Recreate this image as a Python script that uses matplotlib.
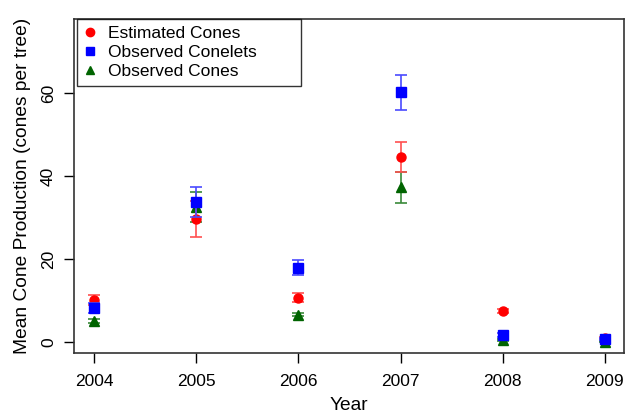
import numpy as np
import matplotlib.pyplot as plt
from matplotlib.lines import Line2D

plt.rcParams['font.family'] = ['Liberation Sans', 'DejaVu Sans']

years = [2004, 2005, 2006, 2007, 2008, 2009]

est_cones = [10.1, 29.6, 10.7, 44.6, 7.5, 1.0]
est_cones_err = [1.2, 4.3, 1.0, 3.6, 0.5, 0.3]

obs_conelets = [8.2, 33.7, 17.9, 60.1, 1.7, 0.8]
obs_conelets_err = [1.1, 3.7, 1.8, 4.3, 0.4, 0.2]

obs_cones = [5.1, 32.5, 6.6, 37.3, 0.5, 0.1]
obs_cones_err = [0.5, 3.7, 0.4, 3.7, 0.2, 0.1]

fig = plt.figure(figsize=(6.26, 4.16), dpi=100)
ax = fig.add_axes([0.1182, 0.1514, 0.8786, 0.8029])

kw = dict(linestyle='none', capsize=4, elinewidth=1.2, capthick=1.2, markersize=6.5)
ax.errorbar(years, obs_cones, yerr=obs_cones_err, fmt='^', color='#006400',
            ecolor='#3a8a3a', zorder=2, **kw)
ax.errorbar(years, est_cones, yerr=est_cones_err, fmt='o', color='red',
            ecolor='#ff5050', zorder=3, **kw)
ax.errorbar(years, obs_conelets, yerr=obs_conelets_err, fmt='s', color='blue',
            ecolor='#4a4aff', zorder=4, **kw)

ax.set_xlim(2003.80, 2009.19)
ax.set_ylim(-2.65, 77.8)
ax.set_xticks(years)
ax.set_yticks([0, 20, 40, 60])
ax.set_yticklabels(['0', '20', '40', '60'], rotation=90, va='center')
ax.tick_params(axis='both', labelsize=12.5, length=7, width=1, direction='out')
ax.tick_params(axis='x', pad=8)
ax.tick_params(axis='y', pad=6)
for s in ax.spines.values():
    s.set_linewidth(1.2)
    s.set_color('#333333')

ax.set_xlabel('Year', fontsize=13.8, labelpad=6)
ax.set_ylabel('Mean Cone Production (cones per tree)', fontsize=13.8, labelpad=7)

handles = [
    Line2D([], [], linestyle='none', marker='o', color='red', markersize=6),
    Line2D([], [], linestyle='none', marker='s', color='blue', markersize=6),
    Line2D([], [], linestyle='none', marker='^', color='#006400', markersize=6),
]
leg = ax.legend(handles, ['Estimated Cones', 'Observed Conelets', 'Observed Cones'],
                loc='upper left', bbox_to_anchor=(0.0055, 0.0, 0.407, 1.0), mode='expand',
                fontsize=12.5, frameon=True, fancybox=False, handletextpad=0.7,
                borderpad=0.4, labelspacing=0.22, handlelength=0.7, borderaxespad=0.0)
leg.get_frame().set_edgecolor('black')
leg.get_frame().set_linewidth(1.0)

fig.savefig('out.png', dpi=100)
